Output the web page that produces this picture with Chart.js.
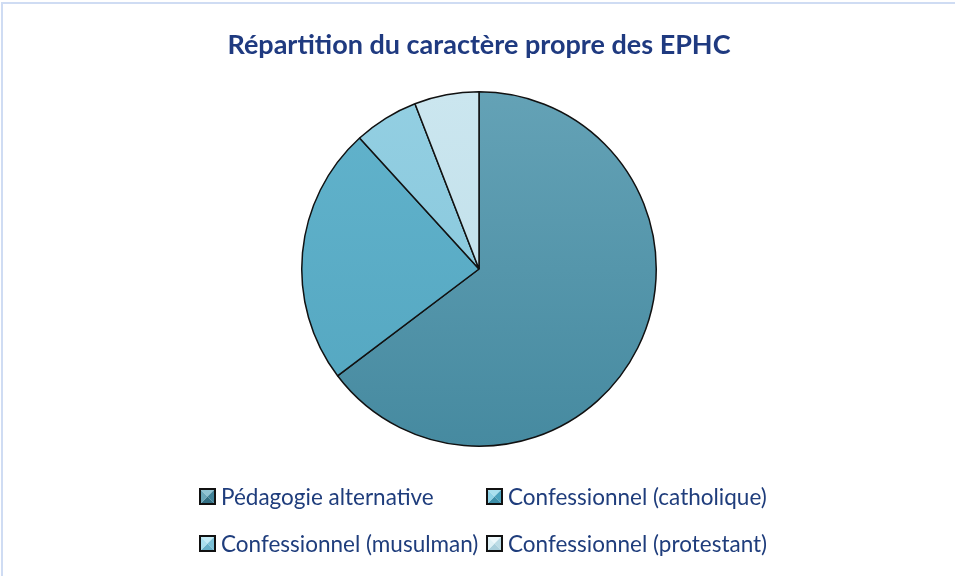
<!DOCTYPE html>
<html>
<head>
<meta charset="utf-8">
<script src="https://cdn.jsdelivr.net/npm/chart.js@4"></script>
<style>
  html, body { margin: 0; padding: 0; background: #fff; overflow: hidden; }
  #wrap { position: relative; width: 955px; height: 576px; }
  #frame { position: absolute; left: 1px; top: 2px; width: 970px; height: 590px;
           border: 2px solid #cfdcf3; box-sizing: border-box; pointer-events: none; }
  #legend { position: absolute; left: 0; top: 0; width: 955px; height: 576px; pointer-events: none;
            font-family: Lato, "Open Sans", sans-serif; font-size: 22.5px; color: #1f3d7c; }
  .item { position: absolute; display: flex; align-items: center; white-space: nowrap; height: 24px; }
  .box { width: 17px; height: 17px; margin-right: 5px; flex: none; display: block; }
</style>
</head>
<body>
<div id="wrap">
  <canvas id="c" width="955" height="576"></canvas>
  <div id="legend"></div>
  <div id="frame"></div>
</div>
<script>
// Distribution of EPHC schools by their "caractère propre"
const categories = [
  'Pédagogie alternative',
  'Confessionnel (catholique)',
  'Confessionnel (musulman)',
  'Confessionnel (protestant)'
];
const counts = [11, 4, 1, 1];
const chartTitle = 'Répartition du caractère propre des EPHC';

// Slice colours: [top shade, bottom shade]
const sliceShades = [
  ['#64a2b6', '#468aa0'],
  ['#62b3cc', '#53a6c0'],
  ['#93cfe2', '#85c5da'],
  ['#cbe6ef', '#bcdde8']
];
// Legend box facets: top, right, bottom, left
const boxFacets = [
  ['#8fc3d3', '#3f8197', '#336f83', '#6aa7ba'],
  ['#a9e0ef', '#4aa2bd', '#3d8fa9', '#8fd3e7'],
  ['#c3ebf6', '#7bc0d6', '#68b0c8', '#aadfee'],
  ['#eef8fb', '#bcdce6', '#a9cfdc', '#dff1f6']
];
// Legend grid cells (column, row)
const legendCells = [[0, 0], [1, 0], [0, 1], [1, 1]];

function sliceFill(ctx) {
  const chart = ctx.chart;
  const area = chart.chartArea;
  const shades = sliceShades[ctx.dataIndex];
  if (!area) return shades[0];
  const g = chart.ctx.createLinearGradient(0, area.top, 0, area.bottom);
  g.addColorStop(0, shades[0]);
  g.addColorStop(1, shades[1]);
  return g;
}

// Small bevelled legend swatch: four facets meeting in the centre
function drawSwatch(cv, facets) {
  const s = cv.width, g = cv.getContext('2d');
  const m = s / 2;
  const pts = [[0, 0], [s, 0], [s, s], [0, s]];
  for (let k = 0; k < 4; k++) {
    const a = pts[k], b = pts[(k + 1) % 4];
    g.beginPath();
    g.moveTo(a[0], a[1]);
    g.lineTo(b[0], b[1]);
    g.lineTo(m, m);
    g.closePath();
    g.fillStyle = facets[k];
    g.fill();
  }
  g.lineWidth = 2;
  g.strokeStyle = '#111';
  g.strokeRect(1, 1, s - 2, s - 2);
}

const htmlLegend = {
  id: 'htmlLegend',
  afterUpdate(chart) {
    const host = document.getElementById('legend');
    host.innerHTML = '';
    const items = chart.options.plugins.legend.labels.generateLabels(chart);
    const colX = [199, 486];
    const rowY = [484, 531];
    items.forEach((it, i) => {
      const [c, r] = legendCells[i];
      const el = document.createElement('div');
      el.className = 'item';
      el.style.left = colX[c] + 'px';
      el.style.top = rowY[r] + 'px';
      const box = document.createElement('canvas');
      box.className = 'box';
      box.width = 17;
      box.height = 17;
      drawSwatch(box, boxFacets[i]);
      const txt = document.createElement('span');
      txt.textContent = it.text;
      el.appendChild(box);
      el.appendChild(txt);
      host.appendChild(el);
    });
  }
};

new Chart(document.getElementById('c'), {
  type: 'pie',
  data: {
    labels: categories,
    datasets: [{
      data: counts,
      backgroundColor: sliceFill,
      borderColor: '#111',
      borderWidth: 1.5
    }]
  },
  options: {
    responsive: false,
    animation: false,
    layout: { padding: { top: 0, bottom: 129, left: 3, right: 0 } },
    plugins: {
      legend: { display: false },
      tooltip: { enabled: false },
      title: {
        display: true,
        text: chartTitle,
        color: '#1f3a80',
        font: { family: 'Lato, "Open Sans", sans-serif', size: 27, weight: 'bold' },
        padding: { top: 29, bottom: 29.6 }
      }
    }
  },
  plugins: [htmlLegend]
});
</script>
</body>
</html>
